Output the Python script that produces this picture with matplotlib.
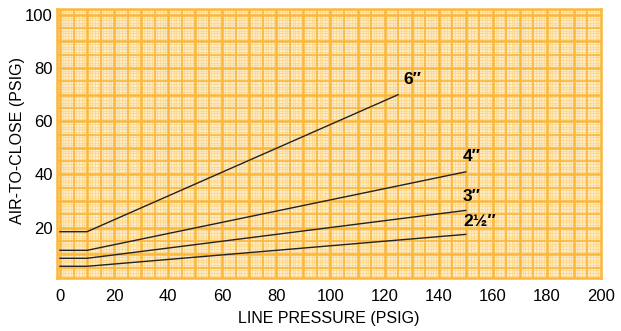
import matplotlib
matplotlib.use("Agg")
import matplotlib.pyplot as plt
import numpy as np

plt.rcParams['font.family'] = ['Liberation Sans', 'DejaVu Sans']

# valve sizes and their curves (line pressure -> air-to-close)
sizes = ["6\u2033", "4\u2033", "3\u2033", "2\u00bd\u2033"]
pressure = [
    [0, 10, 125],
    [0, 10, 150],
    [0, 10, 150],
    [0, 10, 150],
]
air_to_close = [
    [18.5, 18.5, 70],
    [11.5, 11.5, 41],
    [8.5, 8.5, 26.5],
    [5.5, 5.5, 17.5],
]
label_xy = [(127, 73), (149, 44), (149, 29), (149, 19.5)]

xticks = list(range(0, 201, 20))
yticks = list(range(20, 101, 20))

fig = plt.figure(figsize=(6.21, 3.31), dpi=100)
ax = fig.add_axes([57 / 621, 53 / 331, 544 / 621, 269 / 331])
ax.set_xlim(-1.1, 199.6)
ax.set_ylim(1.1, 102.2)
ax.set_facecolor("#FFF6E2")

# graph-paper grid
for v in np.arange(0, 200, 1):
    ax.axvline(v, color="#FDDA94", lw=0.9, zorder=0)
for v in np.arange(2, 103, 1):
    ax.axhline(v, color="#FDDA94", lw=0.9, zorder=0)
for v in np.arange(0, 200, 5):
    ax.axvline(v, color="#FBB73A", lw=1.2 if v % 10 else 1.8, zorder=1)
for v in np.arange(5, 103, 5):
    ax.axhline(v, color="#FBB73A", lw=1.2 if v % 10 else 1.8, zorder=1)

for xs, ys, name, (lx, ly) in zip(pressure, air_to_close, sizes, label_xy):
    ax.plot(xs, ys, color="#222222", lw=1.0, zorder=3)
    ax.text(lx, ly, name, fontsize=12.5, fontweight="bold", ha="left", va="bottom", zorder=4)

ax.set_xticks(xticks)
ax.set_yticks(yticks)
ax.tick_params(length=0, labelsize=12)
ax.tick_params(axis="x", pad=8)
ax.tick_params(axis="y", pad=3)
for s in ax.spines.values():
    s.set_color("#FBB73A")
    s.set_linewidth(1.8)

ax.set_xlabel("LINE PRESSURE (PSIG)", fontsize=11.5, labelpad=5)
ax.set_ylabel("AIR-TO-CLOSE (PSIG)", fontsize=11.5)
ax.yaxis.set_label_coords(-0.058, 0.51)

fig.savefig("out.png", dpi=100)
